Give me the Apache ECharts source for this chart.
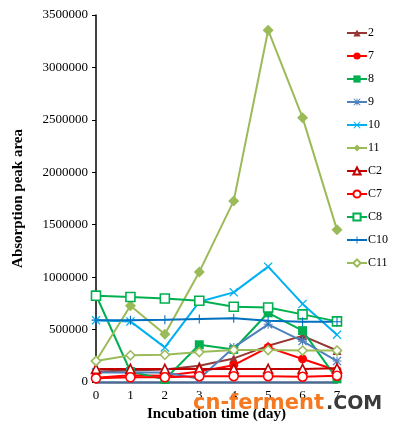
<!DOCTYPE html>
<html>
<head>
<meta charset="utf-8">
<script src="https://cdn.jsdelivr.net/npm/echarts@6/dist/echarts.min.js"></script>
<style>
  html, body { margin: 0; padding: 0; background: #fff; }
  #chart { width: 397px; height: 427px; }
</style>
</head>
<body>
<div id="chart"></div>
<script>
// incubation days
const days = ["0", "1", "2", "3", "4", "5", "6", "7"];
const yTicks = [0, 500000, 1000000, 1500000, 2000000, 2500000, 3000000, 3500000];

// peak areas
const s2 = [100000, 110000, 120000, 155000, 225000, 345000, 440000, 300000];
const s7 = [40000, 65000, 60000, 100000, 160000, 330000, 220000, 110000];
const s8 = [830000, 100000, 25000, 355000, 310000, 660000, 490000, 30000];
const s9 = [90000, 90000, 90000, 30000, 330000, 550000, 390000, 200000];
const s10 = [590000, 578000, 330000, 765000, 855000, 1100000, 745000, 450000];
const s11 = [200000, 727000, 455000, 1050000, 1727000, 3355000, 2521000, 1451000];
const c2 = [125000, 125000, 125000, 125000, 125000, 125000, 125000, 130000];
const c7 = [35000, 45000, 45000, 55000, 55000, 55000, 50000, 60000];
const c8 = [822000, 810000, 797000, 775000, 717000, 711000, 645000, 578000];
const c10 = [590000, 590000, 593000, 600000, 607000, 584000, 574000, 574000];
const c11 = [200000, 255000, 260000, 285000, 305000, 305000, 300000, 300000];

const X_MARK = "path://M0,1 L1,0 L5,4 L9,0 L10,1 L6,5 L10,9 L9,10 L5,6 L1,10 L0,9 L4,5 Z";
const PLUS_MARK = "path://M4.4,0 H5.6 V4.4 H10 V5.6 H5.6 V10 H4.4 V5.6 H0 V4.4 H4.4 Z";
const STAR_MARK = X_MARK + " " + PLUS_MARK.replace("path://", "");

function line(name, data, color, symbol, size, open) {
    return {
        name: name,
        type: "line",
        data: data,
        symbol: symbol,
        symbolSize: size,
        lineStyle: { color: color, width: 2 },
        itemStyle: open
            ? { color: "#fff", borderColor: color, borderWidth: 1.6 }
            : { color: color, borderWidth: 0 },
        emphasis: { disabled: true },
        animation: false,
    };
}

const font = "Liberation Serif";
const chart = echarts.init(document.getElementById("chart"));
chart.setOption({
    backgroundColor: "#fff",
    textStyle: { fontFamily: font },
    grid: { left: 96, right: 60, top: 15, bottom: 43 },
    legend: {
        orient: "vertical",
        left: 346,
        top: 27,
        padding: 0,
        itemWidth: 20,
        itemHeight: 9,
        itemGap: 11,
        textStyle: { fontFamily: font, fontSize: 12, color: "#000", padding: [0, 0, 0, -4] },
    },
    xAxis: {
        type: "category",
        data: days,
        boundaryGap: false,
        name: "Incubation time (day)",
        nameLocation: "middle",
        nameGap: 25,
        nameTextStyle: { fontFamily: font, fontSize: 15, fontWeight: "bold", color: "#000" },
        axisLine: { lineStyle: { color: "#4a6890", width: 2.5 } },
        axisTick: { show: false },
        axisLabel: { fontFamily: font, fontSize: 13, color: "#000", margin: 7 },
        splitLine: { show: false },
    },
    yAxis: {
        type: "value",
        min: yTicks[0],
        max: yTicks[yTicks.length - 1],
        interval: 500000,
        name: "Absorption peak area",
        nameLocation: "middle",
        nameGap: 70,
        nameTextStyle: { fontFamily: font, fontSize: 15, fontWeight: "bold", color: "#000" },
        axisLine: { show: true, lineStyle: { color: "#000", width: 1.5 } },
        axisTick: { show: true, length: 4, lineStyle: { color: "#000" } },
        axisLabel: {
            fontFamily: font, fontSize: 13, color: "#000", margin: 8,
            formatter: (v) => String(v),
        },
        splitLine: { show: false },
    },
    series: [
        line("2", s2, "#953735", "triangle", 9, false),
        line("7", s7, "#ff0000", "circle", 9, false),
        line("8", s8, "#00b050", "rect", 9, false),
        line("9", s9, "#4f81bd", STAR_MARK, 9, false),
        line("10", s10, "#00b0f0", X_MARK, 9, false),
        line("11", s11, "#9bbb59", "diamond", 11, false),
        line("C2", c2, "#c00000", "triangle", 9, true),
        line("C7", c7, "#ff0000", "circle", 9, true),
        line("C8", c8, "#00b050", "rect", 9, true),
        line("C10", c10, "#0070c0", PLUS_MARK, 9, false),
        line("C11", c11, "#9bbb59", "diamond", 9, true),
    ],
    graphic: [
        {
            type: "text",
            left: 193,
            top: 393,
            z: 100,
            style: { text: "cn-ferment", fill: "#f47920", font: "bold 21px 'DejaVu Sans'" },
        },
        {
            type: "text",
            left: 326,
            top: 395,
            z: 100,
            style: { text: ".COM", fill: "#3a3a3a", font: "bold 19px 'DejaVu Sans'" },
        },
    ],
});
</script>
</body>
</html>
